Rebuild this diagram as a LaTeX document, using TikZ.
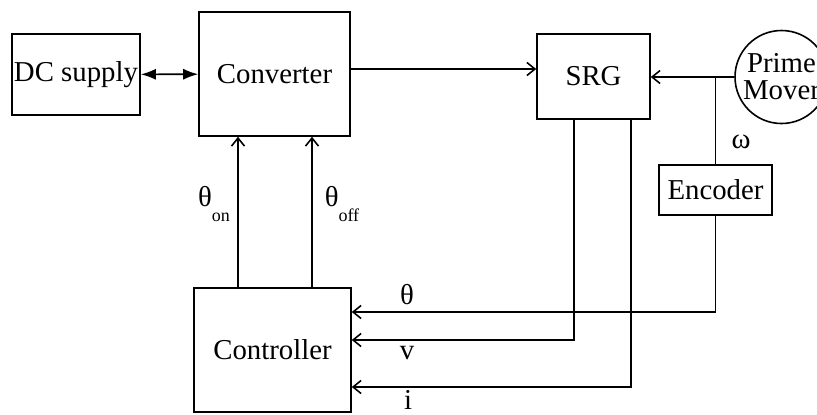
\documentclass[tikz,border=0pt]{standalone}
\usepackage{fontspec}
\setmainfont{Liberation Serif}
\usepackage{tikz}
\usetikzlibrary{positioning,arrows.meta}
\tikzset{blk/.style={draw,rectangle,inner sep=0pt,line width=0.8pt},
	 sig/.style={-{Straight Barb[length=4pt,width=6.5pt]},line width=0.8pt},
	 wire/.style={line width=0.8pt},
	 lbl/.style={inner sep=0pt}
	 }
\newcommand{\sub}[1]{\raisebox{-1.2ex}{\fontsize{9}{9}\selectfont #1}}

\begin{document}
\begin{tikzpicture}[x=0.5pt,y=-0.5pt,font=\fontsize{14.4}{13.5}\selectfont] % SRG with encoder feedback
	\useasboundingbox (0,0) rectangle (817,414);
	\node[blk,minimum width=64pt,minimum height=40.5pt] (dc) at (76,74.5) {DC supply};
	\node[blk,minimum width=75.5pt,minimum height=62pt] (conv) at (274.5,74) {Converter};
	\node[blk,minimum width=56.5pt,minimum height=42.5pt] (srg) at (593.5,76.5) {SRG};
	\node[blk,circle,minimum size=46.5pt,align=center] (pm) at (781.5,77) {Prime\\Mover};
	\node[blk,minimum width=56.5pt,minimum height=25pt] (enc) at (715.5,190) {Encoder};
	\node[blk,minimum width=78.5pt,minimum height=62pt] (ctrl) at (272.5,350) {Controller};
	\coordinate (jn) at (enc.north |- pm.west);
	\draw [{Latex[length=7.5pt,width=5.5pt]}-{Latex[length=7.5pt,width=5.5pt]},wire] (dc) to (conv);
	\draw [sig] (conv.east |- 0,69) to (srg.west |- 0,69);
	\draw [sig] (pm.west) to (pm.west -| srg.east);
	\draw [wire] (jn) to (enc.north);
	\draw [sig] (enc.south) |- (ctrl.east |- 0,312);
	\draw [sig] (srg.south -| 574,0) |- (ctrl.east |- 0,340);
	\draw [sig] (srg.south -| 631,0) |- (ctrl.east |- 0,387);
	\draw [sig] (ctrl.north -| 238,0) to (conv.south -| 238,0);
	\draw [sig] (ctrl.north -| 312,0) to (conv.south -| 312,0);
	\node[lbl] (w) at (741,142) {ω};
	\node[lbl] (th) at (407,295) {θ};
	\node[lbl] (v) at (407,353) {v};
	\node[lbl] (i) at (408,400) {i};
	\node[lbl] (thon) at (214,204) {θ\sub{on}};
	\node[lbl] (thoff) at (342,204) {θ\sub{off}};
\end{tikzpicture}
\end{document}
